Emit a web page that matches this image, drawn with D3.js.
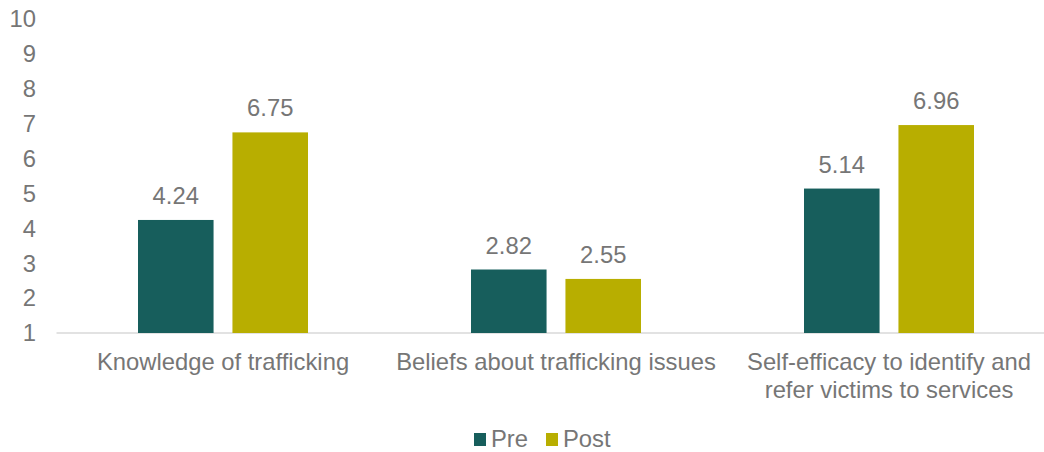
<!DOCTYPE html>
<html><head><meta charset="utf-8">
<script src="https://cdn.jsdelivr.net/npm/d3@7"></script>
<style>body{margin:0;background:#fff}svg{display:block}text{font-family:"Liberation Sans",Arial,sans-serif}</style>
</head><body>
<svg id="c" width="1044" height="452"></svg>
<script>
const categories = [["Knowledge of trafficking"], ["Beliefs about trafficking issues"], ["Self-efficacy to identify and", "refer victims to services"]];
const series = ["Pre", "Post"];
const preValues = [4.24, 2.82, 5.14];
const postValues = [6.75, 2.55, 6.96];
const yTicks = [1,2,3,4,5,6,7,8,9,10];
const colors = {Pre: "#175e5c", Post: "#b8ae00"};
const textColor = "#767676";
const fs = 23.8;

const svg = d3.select("#c");
const x = d3.scaleBand().domain(d3.range(categories.length)).range([56.5, 1055.5]).paddingInner(0).paddingOuter(0);
const y = d3.scaleLinear().domain([1, 10]).range([333, 19]);
const xs = d3.scaleBand().domain(series).range([0, 170]).paddingInner(0.2);

// axis line
svg.append("line").attr("x1", 56.5).attr("x2", 1044).attr("y1", y(1)).attr("y2", y(1))
  .attr("stroke", "#d9d9d9").attr("stroke-width", 1.5);

// y tick labels
svg.append("g").selectAll("text").data(yTicks).join("text")
  .attr("x", 36).attr("y", d => y(d)).attr("dy", "0.35em").attr("text-anchor", "end")
  .attr("font-size", fs).attr("fill", textColor).text(d => d);

const data = categories.map((c, i) => ({i, vals: [{s: "Pre", v: preValues[i]}, {s: "Post", v: postValues[i]}]}));
const g = svg.append("g").selectAll("g").data(data).join("g")
  .attr("transform", d => `translate(${x(d.i) + x.bandwidth()/2 - 85},0)`);
g.selectAll("rect").data(d => d.vals).join("rect")
  .attr("x", d => xs(d.s)).attr("width", xs.bandwidth())
  .attr("y", d => y(d.v)).attr("height", d => y(1) - y(d.v))
  .attr("fill", d => colors[d.s]);
g.selectAll("text").data(d => d.vals).join("text")
  .attr("x", d => xs(d.s) + xs.bandwidth()/2).attr("y", d => y(d.v) - 16)
  .attr("text-anchor", "middle").attr("font-size", fs).attr("fill", textColor)
  .text(d => d.v.toFixed(2));

// category labels
svg.append("g").selectAll("text").data(categories).join("text")
  .attr("text-anchor", "middle").attr("font-size", fs).attr("fill", textColor)
  .attr("transform", (d, i) => `translate(${x(i) + x.bandwidth()/2},370)`)
  .selectAll("tspan").data(d => d).join("tspan")
  .attr("x", 0).attr("dy", (d, j) => j === 0 ? 0 : 27.5).text(d => d);

// legend
const lg = svg.append("g");
const legendX = [474, 546];
series.forEach((s, i) => {
  lg.append("rect").attr("x", legendX[i]).attr("y", 433).attr("width", 12).attr("height", 13).attr("fill", colors[s]);
  lg.append("text").attr("x", legendX[i] + 17).attr("y", 447).attr("font-size", fs).attr("fill", textColor).text(s);
});
</script>
</body></html>
